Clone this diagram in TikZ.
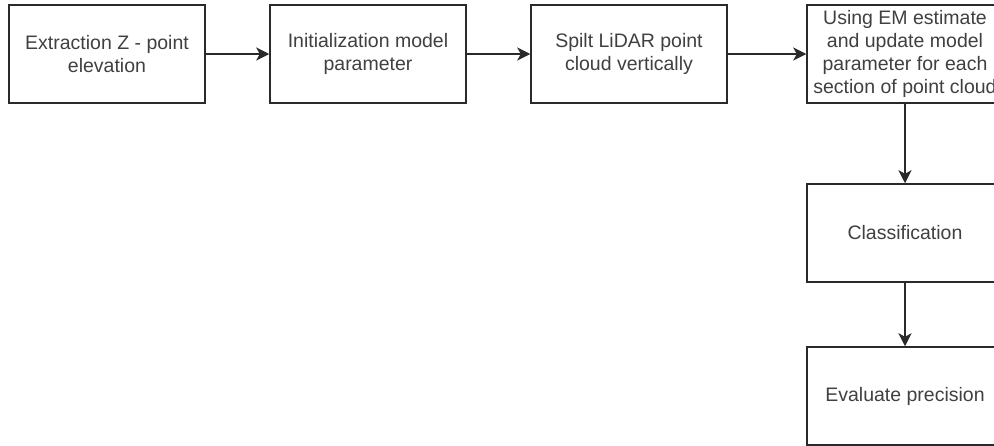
\documentclass[tikz,border=0pt]{standalone}
\usepackage{fontspec}
\setmainfont{Liberation Sans}
\usetikzlibrary{arrows.meta}
\definecolor{boxline}{HTML}{2A2A2A}
\definecolor{boxtext}{HTML}{404040}
\tikzset{
  stepbox/.style={draw=boxline, line width=1.5pt, fill=white,
    minimum width=196pt, minimum height=98pt, inner sep=0pt,
    align=center, text=boxtext,
    font=\fontsize{19.5pt}{23pt}\selectfont},
  flow/.style={draw=boxline, line width=1.5pt,
    -{Stealth[length=13pt,width=13pt,inset=3.5pt]}}
}
\begin{document}
\begin{tikzpicture}[x=1pt,y=-1pt]
  \useasboundingbox (0,0) rectangle (994,445);
  \clip (0,0) rectangle (994,445);
  \fill[white] (0,0) rectangle (994,445);
  % top row of processing steps
  \node[stepbox] (extract) at (107,54) {Extraction Z - point\\elevation};
  \node[stepbox] (init)    at (368,54) {Initialization model\\parameter};
  \node[stepbox] (split)   at (629,54) {Spilt LiDAR point\\cloud vertically};
  \node[stepbox] (em)      at (905,54) {Using EM estimate\\and update model\\parameter for each\\section of point cloud};
  % right column
  \node[stepbox] (class)   at (905,233) {Classification};
  \node[stepbox] (eval)    at (905,396) {Evaluate precision};
  % connectors
  \draw[flow] (extract) -- (init);
  \draw[flow] (init) -- (split);
  \draw[flow] (split) -- (em);
  \draw[flow] (em) -- (class);
  \draw[flow] (class) -- (eval);
\end{tikzpicture}
\end{document}
